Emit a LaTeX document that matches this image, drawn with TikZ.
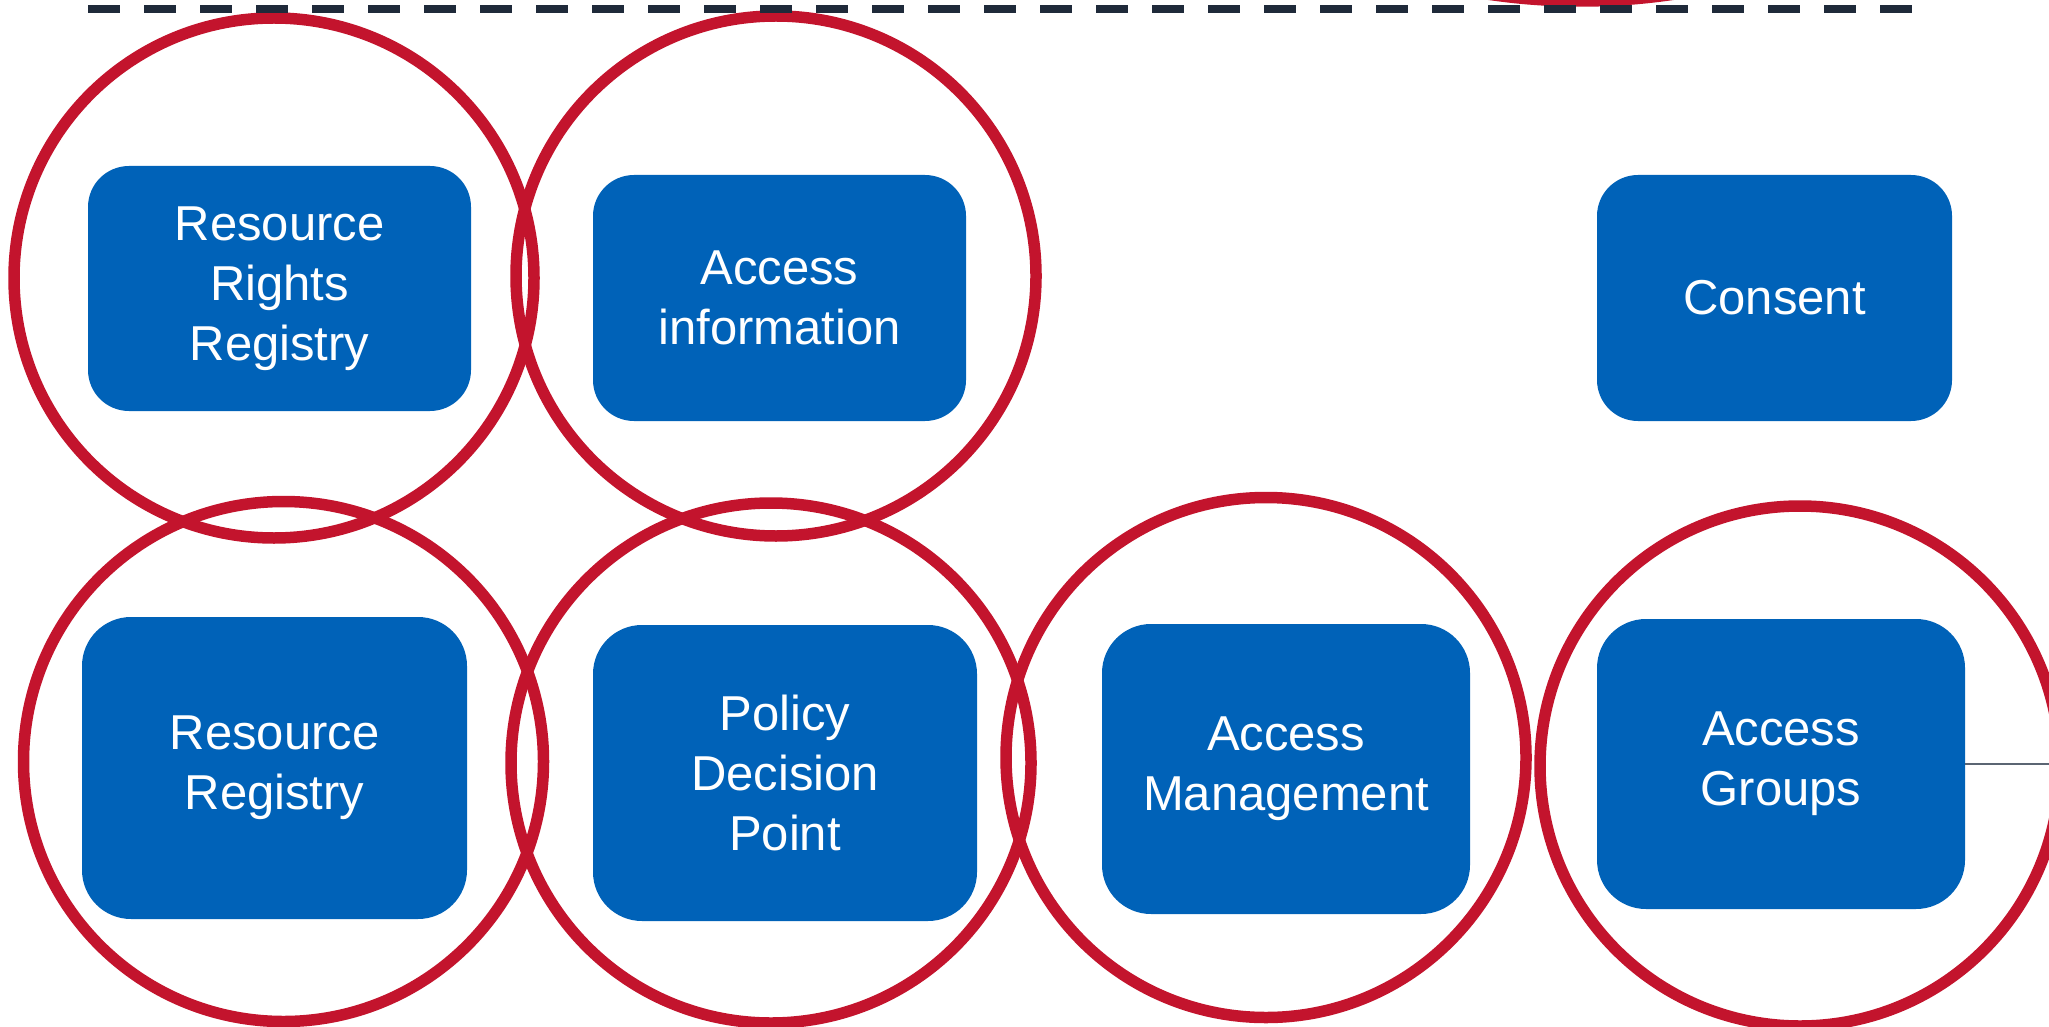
\documentclass[tikz,border=0pt]{standalone}
\usepackage{fontspec}
\setmainfont{Liberation Sans}
\definecolor{boxblue}{HTML}{0062B8}
\definecolor{ringred}{HTML}{C3142D}
\definecolor{dashnavy}{HTML}{1F2A3A}
\definecolor{linegray}{HTML}{5B6573}
\tikzset{
  ring/.style={draw=ringred, line width=5.75pt},
  topbox/.style={fill=boxblue, text=white, rounded corners=20.5pt, align=center, inner sep=0pt,
    font=\fontsize{24.5}{30}\selectfont},
  botbox/.style={fill=boxblue, text=white, rounded corners=24.5pt, align=center, inner sep=0pt,
    font=\fontsize{24.5}{30}\selectfont},
  dashline/.style={draw=dashnavy, line width=4.15pt, dash pattern=on 16pt off 12pt},
  thinline/.style={draw=linegray, line width=0.75pt}
}
\begin{document}
\begin{tikzpicture}[x=0.5pt,y=-0.5pt]
\useasboundingbox (0,0) rectangle (2049,1027);
\clip (0,0) rectangle (2049,1027);
\fill[white] (0,0) rectangle (2049,1027);
% rings
\draw[ring] (274,278) circle[radius=130pt];
\draw[ring] (776,276) circle[radius=130pt];
\draw[ring] (283.5,761.5) circle[radius=130pt];
\draw[ring] (771,763) circle[radius=130pt];
\draw[ring] (1266,757.5) circle[radius=130pt];
\draw[ring] (1800,766) circle[radius=130pt];
\draw[ring] (1581,-624) circle[radius=312.5pt];
% dashed boundary
\coordinate (dL) at (88,9.2);
\coordinate (dR) at (1912,9.2);
\draw[dashline] (dL) -- (dR);
% boxes
\node[topbox, minimum width=191.5pt, minimum height=122.5pt] (rrr) at (279.5,288.5) {Resource\\Rights\\Registry};
\node[topbox, minimum width=186.5pt, minimum height=123pt] (ai) at (779.5,298) {Access\\information};
\node[topbox, minimum width=177.5pt, minimum height=123pt] (con) at (1774.5,298) {Consent};
\node[botbox, minimum width=192.5pt, minimum height=151pt] (rr) at (274.5,768) {Resource\\Registry};
\node[botbox, minimum width=192pt, minimum height=148pt] (pdp) at (785,773) {Policy\\Decision\\Point};
\node[botbox, minimum width=184pt, minimum height=145pt] (am) at (1286,769) {Access\\Management};
\node[botbox, minimum width=184pt, minimum height=145pt] (ag) at (1781,764) {Access\\Groups};
% connector leaving the picture
\coordinate (offR) at (2070,764);
\draw[thinline] (ag.east) -- (offR);
\end{tikzpicture}
\end{document}
